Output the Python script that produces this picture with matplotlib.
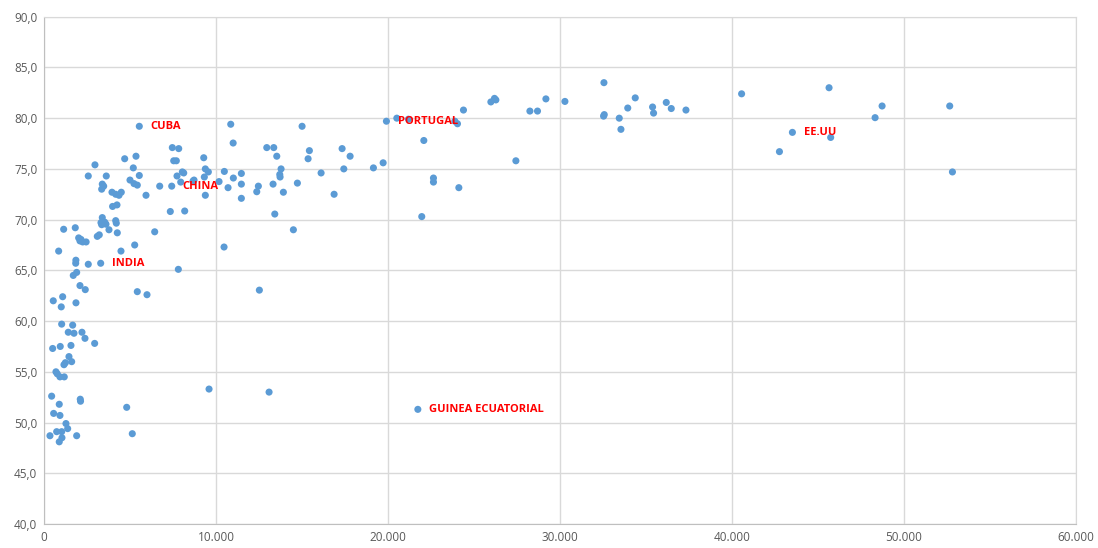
import numpy as np
import matplotlib.pyplot as plt
from matplotlib.ticker import FuncFormatter, MultipleLocator

# PIB per cápita (PPA) y esperanza de vida
gdp = [
    489, 931, 1554, 2369, 2932, 1438, 1595, 1147, 1230, 681,
    757, 914, 1164, 430, 873, 2095, 2110, 4796, 547, 914,
    9586, 1263, 1362, 722, 1013, 332, 1030, 873, 1886, 5121,
    1013, 1653, 1397, 1729, 2194, 13078,
    524, 1071, 989, 1845, 2078, 2386, 5413, 5977, 1886, 1688,
    7800, 1840, 1830, 2561, 3283, 838, 4464, 5261, 10459, 12513,
    1129, 1804, 2002, 2136, 2235, 2078, 2435, 3085, 3201, 3376,
    3300, 3515, 3591, 3341, 4156, 4191, 3766, 4249, 6425, 7333,
    8170, 3975, 4231,
    2561, 3608, 2950, 3376, 3457, 3341, 3940, 4156, 4348, 4481,
    4679, 5337, 5180, 5529, 4988, 5220, 5413, 5919, 6716, 7415,
    7450, 7822, 7531, 7683, 7723, 8032, 8113, 7939, 8654, 5529,
    8712, 9277, 9370, 9545, 9312, 9370, 10476, 10168, 10692, 11000,
    11466, 11466, 11466, 12455, 12362, 13310, 13776, 13700, 13718, 13910,
    14725, 16104, 16861, 17425, 19148, 19713, 13410, 14492, 10988, 12944,
    13350, 13526, 15423, 15348, 17326, 17792, 10848, 14998,
    19904, 20509, 21185, 22080, 22640, 22640, 21960, 23885, 24037, 24386,
    24117, 27435, 25980, 26190, 26271, 28250, 28692, 29181, 30287, 32557,
    32536, 32575, 33448, 33546, 33942, 34378, 35386, 35444, 36183, 36474,
    37328, 40565, 42766, 43520, 45652, 45746, 48330, 48737, 52671, 52829,
    21732,
]
life = [
    57.3, 57.5, 57.6, 58.3, 57.8, 56.5, 56.0, 55.7, 55.9, 55.0,
    54.8, 54.5, 54.5, 52.6, 51.8, 52.3, 52.1, 51.5, 50.9, 50.7,
    53.3, 49.9, 49.4, 49.1, 49.1, 48.7, 48.5, 48.1, 48.7, 48.9,
    59.7, 59.6, 58.9, 58.8, 58.9, 53.0,
    62.0, 62.4, 61.4, 61.8, 63.5, 63.1, 62.9, 62.6, 64.8, 64.5,
    65.1, 66.0, 65.7, 65.6, 65.7, 66.9, 66.9, 67.5, 67.3, 63.05,
    69.05, 69.2, 68.2, 68.05, 67.8, 67.9, 67.8, 68.35, 68.5, 70.2,
    69.7, 69.75, 69.55, 69.5, 69.9, 69.65, 69.0, 68.7, 68.8, 70.8,
    70.85, 71.3, 71.45,
    74.3, 74.3, 75.4, 73.5, 73.3, 73.0, 72.7, 72.5, 72.4, 72.7,
    76.0, 76.25, 75.1, 74.35, 73.9, 73.55, 73.4, 72.4, 73.3, 73.3,
    77.1, 77.0, 75.8, 75.8, 74.3, 74.7, 74.6, 73.7, 73.8, 79.2,
    73.9, 76.1, 75.0, 74.7, 74.2, 72.4, 74.75, 73.75, 73.15, 74.1,
    74.55, 73.5, 72.1, 73.3, 72.75, 73.5, 75.0, 74.45, 74.2, 72.7,
    73.6, 74.6, 72.5, 75.0, 75.1, 75.6, 70.55, 69.0, 77.55, 77.1,
    77.1, 76.25, 76.8, 76.0, 77.0, 76.25, 79.4, 79.2,
    79.7, 80.0, 79.9, 77.8, 74.1, 73.7, 70.3, 79.7, 79.45, 80.8,
    73.15, 75.8, 81.6, 81.95, 81.8, 80.7, 80.7, 81.9, 81.65, 83.5,
    80.2, 80.35, 80.0, 78.9, 81.0, 82.0, 81.1, 80.5, 81.55, 80.95,
    80.8, 82.4, 76.7, 78.6, 83.0, 78.1, 80.05, 81.2, 81.2, 74.7,
    51.3,
]

# países destacados -> índice del punto en las listas
label_names = ["CUBA", "CHINA", "INDIA", "PORTUGAL", "EE.UU", "GUINEA ECUATORIAL"]
label_idx = [108, 98, 50, 147, 180, 187]

fig = plt.figure(figsize=(10.98, 5.48), dpi=100)
ax = fig.add_axes([0.0403, 0.0438, 0.9394, 0.9257])

ax.scatter(gdp, life, s=26, color="#5B9BD5", edgecolors="none", zorder=3)

for name, i in zip(label_names, label_idx):
    ax.annotate(name, (gdp[i], life[i]), xytext=(8, 0), textcoords="offset points",
                va="center", ha="left", color="#FF0000", fontsize=8,
                fontweight="bold", family="Open Sans", zorder=4)

ax.set_xlim(0, 60000)
ax.set_ylim(40, 90)
ax.xaxis.set_major_locator(MultipleLocator(10000))
ax.yaxis.set_major_locator(MultipleLocator(5))

ax.xaxis.set_major_formatter(FuncFormatter(lambda v, p: f"{int(v):,}".replace(",", ".")))
ax.yaxis.set_major_formatter(FuncFormatter(lambda v, p: f"{v:.1f}".replace(".", ",")))

ax.grid(True, color="#D9D9D9", linewidth=1.0, zorder=0)
ax.set_axisbelow(True)
for side in ["top", "right"]:
    ax.spines[side].set_color("#D9D9D9")
for side in ["left", "bottom"]:
    ax.spines[side].set_color("#BFBFBF")
ax.tick_params(length=0, labelsize=8.5, labelcolor="#595959", pad=5)
for lab in ax.get_xticklabels() + ax.get_yticklabels():
    lab.set_family("Open Sans")

fig.savefig("out.png", dpi=100)
